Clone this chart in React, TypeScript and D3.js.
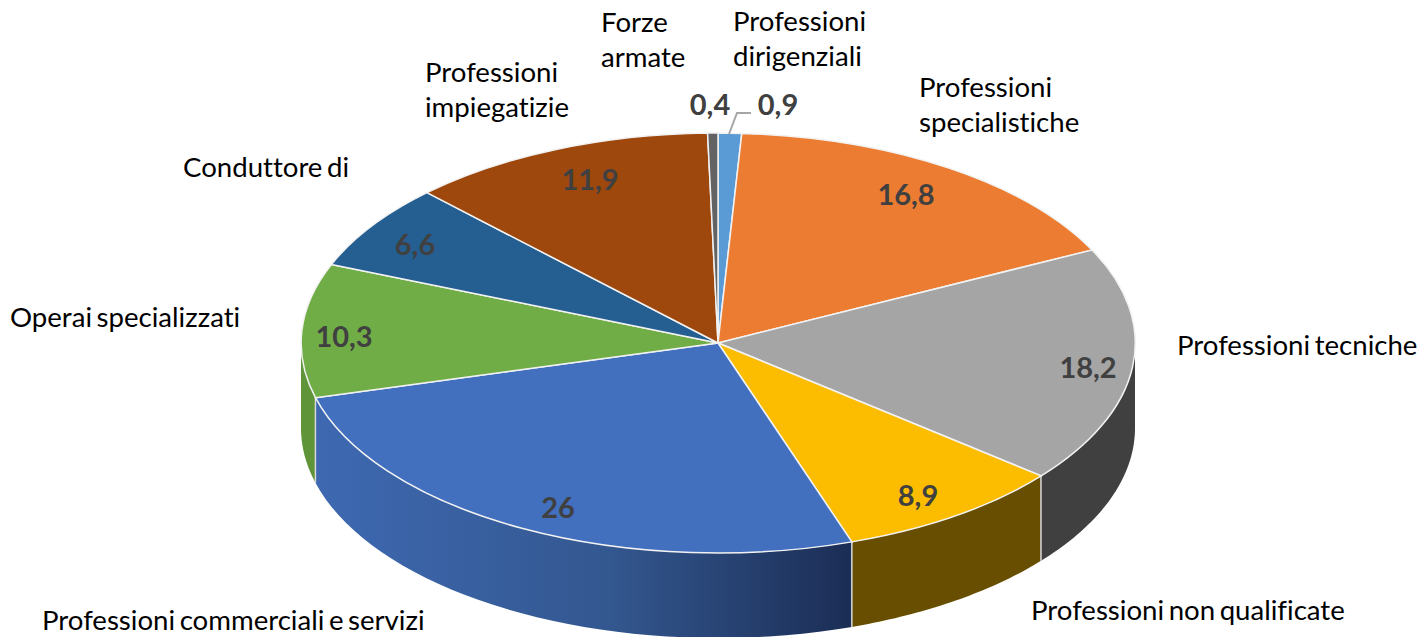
// 3D-look pie chart of occupations, drawn with d3.pie + d3.arc on a squashed ellipse
import * as d3 from "d3"

const categories = [
  "Professioni dirigenziali",
  "Professioni specialistiche",
  "Professioni tecniche",
  "Professioni non qualificate",
  "Professioni commerciali e servizi",
  "Operai specializzati",
  "Conduttore di",
  "Professioni impiegatizie",
  "Forze armate",
]
const values = [0.9, 16.8, 18.2, 8.9, 26, 10.3, 6.6, 11.9, 0.4]
const topColors = ["#5b9bd5", "#eb7c31", "#a5a5a5", "#fcbd00", "#4270bf", "#70ad47", "#255e91", "#9e480e", "#636363"]
const sideColors = ["#3b6a94", "#a35622", "#404040", "#674e00", "url(#blueSide)", "#5f9438", "#1a4264", "#6d320a", "#444444"]

// label layout, index matches categories
const nameLines = categories.map(c =>
  c === "Professioni tecniche" || c === "Professioni non qualificate" || c === "Professioni commerciali e servizi" ||
  c === "Operai specializzati" || c === "Conduttore di"
    ? [c]
    : c.split(" ")
)
const namePos = [[733, 31], [919, 97], [1177, 355], [1031, 620], [42, 630], [10, 327], [183, 177], [425, 82], [601, 32]]
const valuePos = [[778, 115], [906, 205], [1088, 378], [918, 506], [558, 518], [344, 347], [415, 255], [590, 190], [710, 115]]

const W = 1424
const H = 637
const cx = 718
const cy = 343
const rx = 417
const ry = 210
const depth = 85

const pie = d3.pie<number>().sort(null).value(d => d)
const arcs = pie(values)
const arc = d3.arc<d3.PieArcDatum<number>>().innerRadius(0).outerRadius(1)

const px = (a: number) => cx + rx * Math.sin(a)
const py = (a: number) => cy - ry * Math.cos(a)

// side wall of a slice, only the front half of the ellipse shows
function wall(a0: number, a1: number) {
  const s = Math.max(a0, Math.PI / 2)
  const e = Math.min(a1, (3 * Math.PI) / 2)
  if (e <= s) return null
  const p = d3.path()
  p.moveTo(px(s), py(s))
  const n = 40
  for (let i = 1; i <= n; i++) p.lineTo(px(s + ((e - s) * i) / n), py(s + ((e - s) * i) / n))
  for (let i = n; i >= 0; i--) p.lineTo(px(s + ((e - s) * i) / n), py(s + ((e - s) * i) / n) + depth)
  p.closePath()
  return p.toString()
}

export default function App() {
  return (
    <svg
      width={W}
      height={H}
      style={{ position: "absolute", left: 0, top: 0, background: "#fff", fontVariantLigatures: "none" }}
      fontFamily="Lato, 'Open Sans', sans-serif"
    >
      <defs>
        <linearGradient id="blueSide" gradientUnits="userSpaceOnUse" x1={315} x2={852} y1={0} y2={0}>
          <stop offset="0" stopColor="#3e69b2" />
          <stop offset="0.55" stopColor="#33578f" />
          <stop offset="1" stopColor="#1b2d55" />
        </linearGradient>
      </defs>

      {arcs.map((d, i) => {
        const w = wall(d.startAngle, d.endAngle)
        return w ? <path key={i} d={w} fill={sideColors[i]} stroke="none" /> : null
      })}
      {/* seams between the walls */}
      {arcs.map((d, i) =>
        d.endAngle > Math.PI / 2 && d.endAngle < (3 * Math.PI) / 2 ? (
          <line
            key={i}
            x1={px(d.endAngle)}
            x2={px(d.endAngle)}
            y1={py(d.endAngle)}
            y2={py(d.endAngle) + depth}
            stroke="#d9d9d9"
            strokeWidth={1.5}
          />
        ) : null
      )}

      <g transform={`translate(${cx},${cy}) scale(${rx},${ry})`}>
        {arcs.map((d, i) => (
          <path
            key={i}
            d={arc(d) as string}
            fill={topColors[i]}
            stroke="#f2f2f2"
            strokeWidth={1.5}
            vectorEffect="non-scaling-stroke"
          />
        ))}
      </g>

      {/* leader line for the 0,9 label */}
      <polyline points="729,134 737,113 751,113" fill="none" stroke="#a6a6a6" strokeWidth={2} />

      {values.map((v, i) => (
        <text
          key={i}
          x={valuePos[i][0]}
          y={valuePos[i][1]}
          textAnchor="middle"
          fontSize={29}
          fontWeight={700}
          fill="#404040"
        >
          {String(v).replace(".", ",")}
        </text>
      ))}

      {nameLines.map((lines, i) =>
        lines.map((t, j) => (
          <text
            key={t}
            x={namePos[i][0]}
            y={namePos[i][1] + j * 35}
            fontSize={27.6}
            wordSpacing={-2.5}
            fill="#000"
          >
            {t}
          </text>
        ))
      )}
    </svg>
  )
}
